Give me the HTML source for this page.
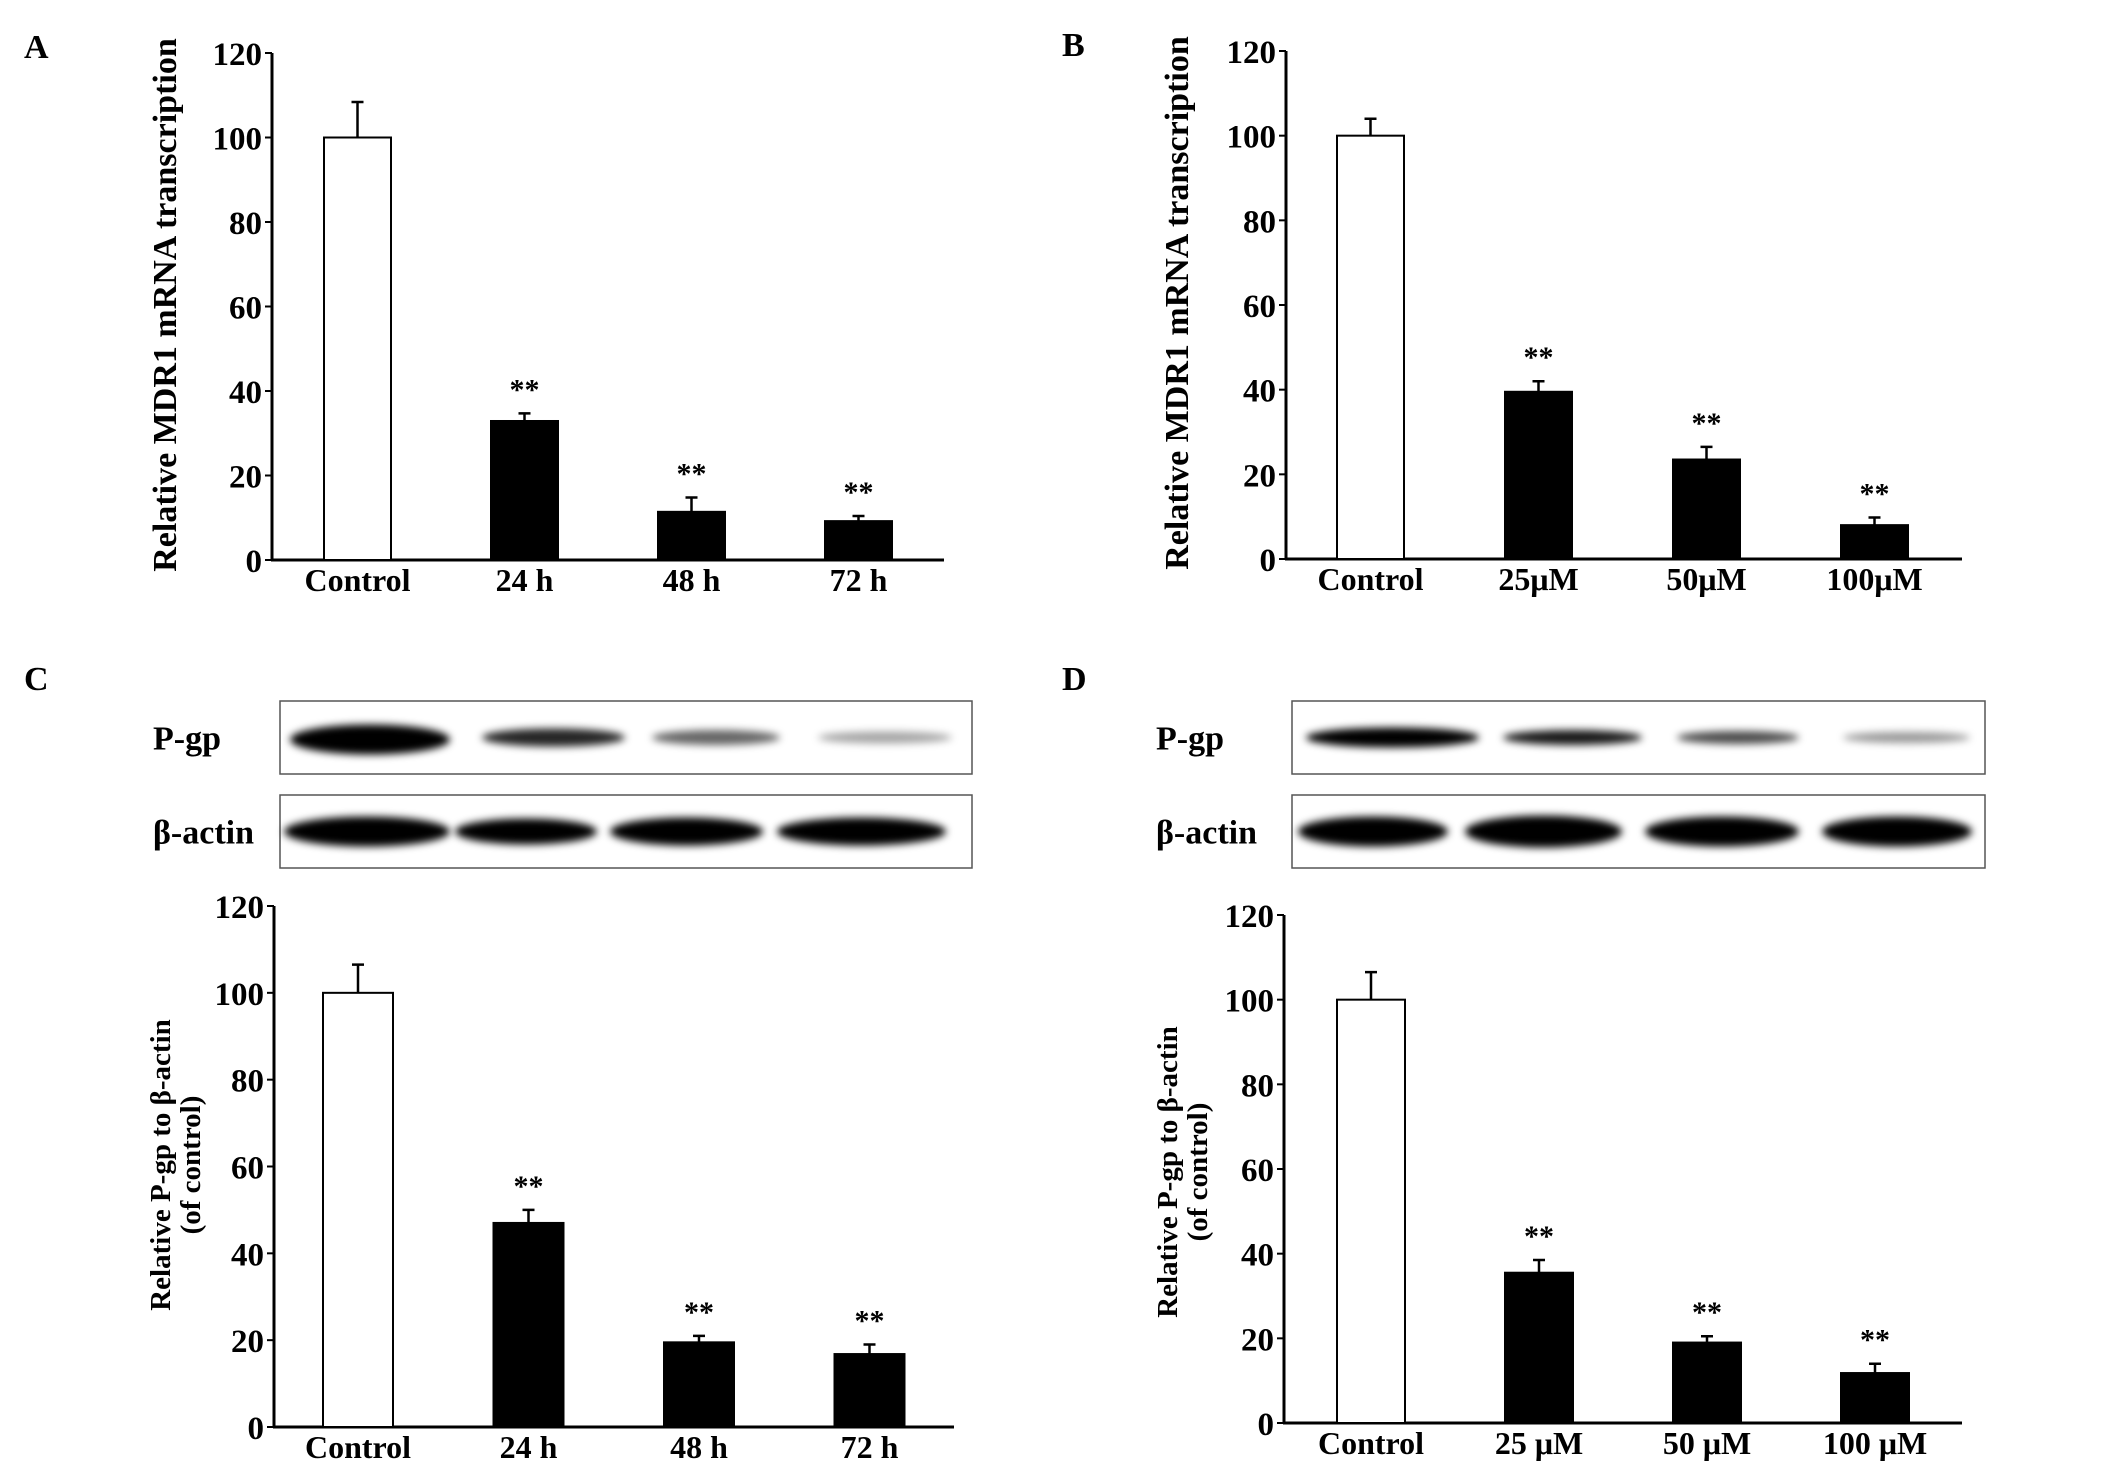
<!DOCTYPE html>
<html><head><meta charset="utf-8"><style>
html,body{margin:0;padding:0;background:#fff}
svg{display:block}
text{font-family:"Liberation Serif",serif;font-weight:bold;fill:#000}
</style></head><body>
<svg id="fig" width="2126" height="1469" viewBox="0 0 2126 1469">
<defs>
<filter id="blur" x="-20%" y="-100%" width="140%" height="300%"><feGaussianBlur stdDeviation="4"/></filter>
</defs>
<text x="24" y="58" font-size="34">A</text>
<text x="1062" y="56" font-size="34">B</text>
<text x="24" y="690" font-size="34">C</text>
<text x="1062" y="690" font-size="34">D</text>
<g id="blots"></g>
<g id="charts"></g>
</svg>
<script>
// Panel A data
const catsA = ["Control","24 h","48 h","72 h"];
const valsA = [100, 32.9, 11.4, 9.2];
const errsA = [108.4, 34.7, 14.8, 10.4];
// Panel B data
const catsB = ["Control","25μM","50μM","100μM"];
const valsB = [100, 39.5, 23.5, 8];
const errsB = [104, 42, 26.5, 9.8];
// Panel C data
const catsC = ["Control","24 h","48 h","72 h"];
const valsC = [100, 47, 19.5, 16.8];
const errsC = [106.5, 50, 21, 19];
// Panel D data
const catsD = ["Control","25 μM","50 μM","100 μM"];
const valsD = [100, 35.5, 19, 11.8];
const errsD = [106.5, 38.5, 20.5, 14];
const sigA = ["","**","**","**"], sigB = ["","**","**","**"], sigC = ["","**","**","**"], sigD = ["","**","**","**"];
const yTicks = [0,20,40,60,80,100,120];

const NS = "http://www.w3.org/2000/svg";
function mk(tag, attrs, parent){
  const e = document.createElementNS(NS, tag);
  for (const k in attrs) e.setAttribute(k, attrs[k]);
  parent.appendChild(e);
  return e;
}
const charts = document.getElementById('charts');

function drawChart(id, cfg, cats, vals, errs, sig){
  const g = mk('g', {}, charts);
  
  
  const y = v => cfg.y0 - (v / 120) * (cfg.y0 - cfg.y120);
  const ax = mk('line', {x1:cfg.ax, y1:cfg.y120, x2:cfg.ax, y2:cfg.y0+1, stroke:'#000','stroke-width':3}, g);
  
  
  const xa = mk('line', {x1:cfg.ax-1, y1:cfg.y0, x2:cfg.xend, y2:cfg.y0, stroke:'#000','stroke-width':3}, g);
  
  
  yTicks.forEach(t => {
    mk('line', {x1:cfg.ax-7, y1:y(t), x2:cfg.ax, y2:y(t), stroke:'#000','stroke-width':2}, g);
    const tl = mk('text', {x:cfg.ax-10, y:y(t)+12, 'font-size':33, 'text-anchor':'end'}, g);
    tl.textContent = t;
    
    
  });
  cats.forEach((c, i) => {
    const x0 = cfg.bx0 + i * cfg.step, w = cfg.bw, cx = x0 + w/2;
    const b = mk('rect', {x:x0, y:y(vals[i]), width:w, height:cfg.y0 - y(vals[i]), fill: i===0 ? '#fff' : '#000', stroke:'#000', 'stroke-width':2}, g);
    
    
    const e = mk('path', {d:`M${cx} ${y(vals[i])} V${y(errs[i])} M${cx-6} ${y(errs[i])} H${cx+6}`, stroke:'#000','stroke-width':2.5, fill:'none'}, g);
    
    
    if (sig[i]) {
      const s = mk('text', {x:cx, y:y(errs[i]) - 14, 'font-size':30, 'text-anchor':'middle', 'font-weight':'normal'}, g);
      s.textContent = sig[i];
      
      
    }
    const l = mk('text', {x:cx, y:cfg.y0 + 31, 'font-size':32, 'text-anchor':'middle'}, g);
    l.textContent = c;
    
    
  });
  cfg.title.forEach((t, k) => {
    const tx = cfg.tx[k];
    const tt = mk('text', {x:tx, y:cfg.ty, 'font-size':cfg.tfs, 'text-anchor':'middle', transform:`rotate(-90 ${tx} ${cfg.ty})`}, g);
    tt.textContent = t;
    
    
  });
}

drawChart('a', {ax:272, y120:53, y0:560, xend:944, bx0:324, bw:67, step:167, title:["Relative MDR1 mRNA transcription"], tx:[176], ty:305, tfs:34}, catsA, valsA, errsA, sigA);
drawChart('b', {ax:1286, y120:51, y0:559, xend:1962, bx0:1337, bw:67, step:168, title:["Relative MDR1 mRNA transcription"], tx:[1188], ty:303, tfs:34}, catsB, valsB, errsB, sigB);
drawChart('c', {ax:274, y120:906, y0:1427, xend:954, bx0:323, bw:70, step:170.5, title:["Relative P-gp to β-actin","(of control)"], tx:[170, 200], ty:1165, tfs:29}, catsC, valsC, errsC, sigC);
drawChart('d', {ax:1284, y120:915, y0:1423, xend:1962, bx0:1337, bw:68, step:168, title:["Relative P-gp to β-actin","(of control)"], tx:[1177, 1207], ty:1172, tfs:29}, catsD, valsD, errsD, sigD);

// Western blots
const blots = document.getElementById('blots');
function blot(id, x, y, w, h, bands, label, lx){
  const g = mk('g', {}, blots);
  
  
  mk('rect', {x:x, y:y, width:w, height:h, fill:'#fff', stroke:'#555', 'stroke-width':1.5}, g);
  bands.forEach(b => {
    const e = mk('ellipse', {cx:(b[0]+b[1])/2, cy:y + h/2 + (b[4]||0), rx:(b[1]-b[0])/2, ry:b[2]/2, fill:'#000', 'fill-opacity':b[3], filter:'url(#blur)'}, g);
    
    
  });
  const t = mk('text', {x:lx, y:y + h/2 + 12, 'font-size':34}, g);
  t.textContent = label;
  
  
}
blot('c-pgp', 280, 701, 692, 73, [[290,450,30,1,2],[482,625,18,0.85],[652,780,15,0.6],[818,952,12,0.35]], 'P-gp', 153);
blot('c-actin', 280, 795, 692, 73, [[284,450,30,1],[455,597,26,1],[610,763,28,1],[777,946,28,1]], 'β-actin', 153);
blot('d-pgp', 1292, 701, 693, 73, [[1306,1479,20,1],[1503,1642,15,0.9],[1677,1799,13,0.7],[1843,1970,11,0.4]], 'P-gp', 1156);
blot('d-actin', 1292, 795, 693, 73, [[1298,1448,30,1],[1465,1622,32,1],[1645,1799,30,1],[1822,1972,30,1]], 'β-actin', 1156);
</script>
</body></html>
